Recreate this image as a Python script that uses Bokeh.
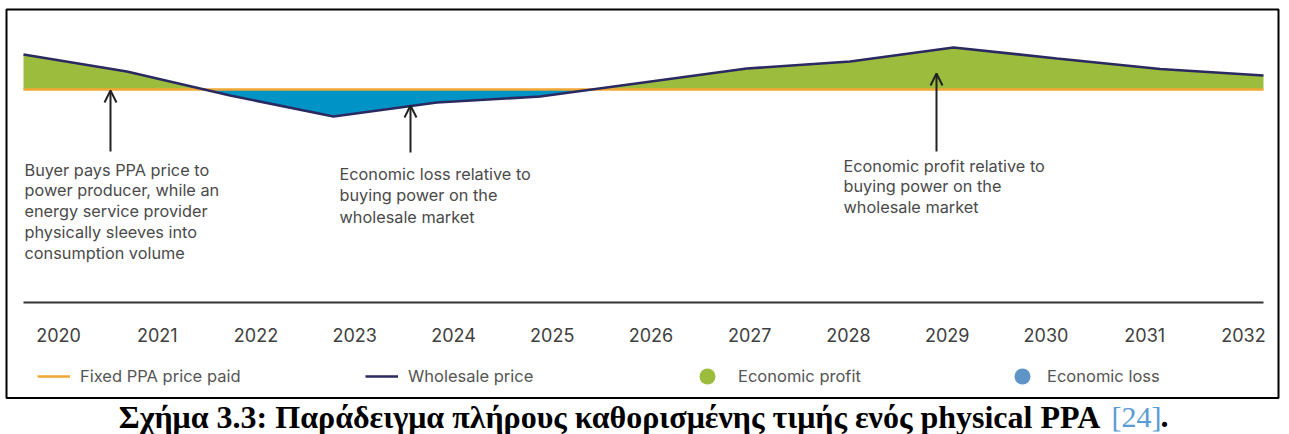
import numpy as np
from bokeh.plotting import figure
from bokeh.models import Range1d, Arrow, OpenHead, Legend, LegendItem
from bokeh.core.properties import value
from bokeh.embed import file_html
from bokeh.resources import INLINE

# ---------------- data ----------------
years = [2020, 2021, 2022, 2023, 2024, 2025, 2026, 2027, 2028, 2029, 2030, 2031, 2032]
year_labels = [str(y) for y in years]
wholesale_price = [67.5, 59.0, 47.0, 36.5, 43.5, 46.5, 53.5, 60.5, 64.0, 71.0, 65.5, 60.25, 57.0]
fixed_ppa_price = [50.0] * len(years)

legend_labels = ["Fixed PPA price paid", "Wholesale price", "Economic profit", "Economic loss"]
note_buyer = ["Buyer pays PPA price to", "power producer, while an", "energy service provider",
              "physically sleeves into", "consumption volume"]
note_loss = ["Economic loss relative to", "buying power on the", "wholesale market"]
note_profit = ["Economic profit relative to", "buying power on the", "wholesale market"]
caption_main = "Σχήμα 3.3: Παράδειγμα πλήρους καθορισμένης τιμής ενός physical PPA"
caption_ref = "[24]"
caption_end = "."

# ---------------- colours ----------------
C_PROFIT = "#9cbc3d"
C_LOSS = "#0094c6"
C_LOSS_LEG = "#5f95c6"
C_WHOLESALE = "#2b2962"
C_PPA = "#f2a634"
C_TEXT = "#4a4a4a"

# ---------------- figure ----------------
W, H = 1289, 434
p = figure(width=W, height=H, output_backend="svg", toolbar_location=None,
           x_axis_type=None, y_axis_type=None,
           x_range=Range1d(2019.777419, 2032.251613), y_range=Range1d(-122.5, 94.5),
           min_border=0, outline_line_color=None, background_fill_color="white",
           border_fill_color="white")
# page-pixel helper ranges (layout only) and a range for the year labels
p.extra_x_ranges = {"px": Range1d(0, W), "yr": Range1d(-0.587342, 12.465823)}
p.extra_y_ranges = {"px": Range1d(H, 0)}

# ---- profit / loss areas (split at crossings of the two price lines) ----
xs, ws, ps = [], [], []
for i in range(len(years)):
    xs.append(years[i]); ws.append(wholesale_price[i]); ps.append(fixed_ppa_price[i])
    if i < len(years) - 1:
        d0 = wholesale_price[i] - fixed_ppa_price[i]
        d1 = wholesale_price[i + 1] - fixed_ppa_price[i + 1]
        if d0 * d1 < 0:
            t = d0 / (d0 - d1)
            xc = years[i] + t * (years[i + 1] - years[i])
            yc = fixed_ppa_price[i] + t * (fixed_ppa_price[i + 1] - fixed_ppa_price[i])
            xs.append(xc); ws.append(yc); ps.append(yc)
ws = np.array(ws); ps = np.array(ps)
p.varea(x=xs, y1=ps, y2=np.maximum(ws, ps), fill_color=C_PROFIT)
p.varea(x=xs, y1=ps, y2=np.minimum(ws, ps), fill_color=C_LOSS)

r_ppa = p.line(years, fixed_ppa_price, line_color=C_PPA, line_width=2.4)
r_ws = p.line(years, wholesale_price, line_color=C_WHOLESALE, line_width=2.6)

# legend proxies for the areas (hidden on the plot, shown in the legend)
r_prof = p.scatter(x=years[:1], y=fixed_ppa_price[:1], marker="circle", size=16,
                   fill_color=C_PROFIT, line_color=None, visible=False)
r_loss = p.scatter(x=years[:1], y=fixed_ppa_price[:1], marker="circle", size=16,
                   fill_color=C_LOSS_LEG, line_color=None, visible=False)

# ---- baseline (x axis line) ----
p.line(x=[years[0], years[-1]], y=[302, 302], y_range_name="px", line_color="#333333", line_width=2)

# ---- year labels ----
p.text(x=list(range(len(year_labels))), y=[334] * len(year_labels), text=year_labels,
       x_range_name="yr", y_range_name="px", text_align="center", text_baseline="alphabetic",
       text_font=value("Inter"), text_font_size="18px", text_color="#404040")

# ---- notes ----
def add_note(lines, x0, y0, dy):
    p.text(x=[x0] * len(lines), y=[y0 + i * dy for i in range(len(lines))], text=lines,
           x_range_name="px", y_range_name="px", text_align="left", text_baseline="alphabetic",
           text_font=value("Inter"), text_font_size="16.3px", text_color=C_TEXT)

add_note(note_buyer, 24, 169, 20.75)
add_note(note_loss, 339, 173, 21.5)
add_note(note_profit, 843, 165, 20.6)

# ---- arrows ----
for ax, y_from, y_to in [(110, 151, 90), (410, 152, 105), (936, 151, 73)]:
    p.add_layout(Arrow(x_start=ax, y_start=y_from, x_end=ax, y_end=y_to,
                       x_range_name="px", y_range_name="px",
                       line_color="#222222", line_width=2,
                       end=OpenHead(size=12, line_width=2, line_color="#222222")))

# ---- legends ----
def add_legend(label, rend, vx, gw, standoff):
    lg = Legend(items=[LegendItem(label=label, renderers=[rend])], location=(vx, 38),
                orientation="horizontal", glyph_width=gw, glyph_height=40, label_height=40,
                label_standoff=standoff, padding=0, margin=0, spacing=0,
                border_line_color=None, background_fill_alpha=0, inactive_fill_alpha=0,
                label_text_font="Inter", label_text_font_size="16.5px", label_text_color="#555555")
    p.add_layout(lg, "center")

add_legend(legend_labels[0], r_ppa, 37, 33, 10)
add_legend(legend_labels[1], r_ws, 365, 33, 10)
add_legend(legend_labels[2], r_prof, 687, 40, 11)
add_legend(legend_labels[3], r_loss, 1002, 40, 5)

# ---- frame box ----
p.quad(left=[6], right=[1278], top=[9], bottom=[397.5], x_range_name="px", y_range_name="px",
       fill_alpha=0, line_color="black", line_width=2)

# ---- caption ----
p.text(x=[609], y=[416], text=[caption_main], x_range_name="px", y_range_name="px",
       text_align="center", text_baseline="alphabetic", text_font=value("Liberation Serif"),
       text_font_style="bold", text_font_size="32px", text_color="black")
p.text(x=[1111], y=[416], text=[caption_ref], x_range_name="px", y_range_name="px",
       text_align="left", text_baseline="alphabetic", text_font=value("Liberation Serif"),
       text_font_size="30px", text_color="#5b9bd5")
p.text(x=[1160], y=[416], text=[caption_end], x_range_name="px", y_range_name="px",
       text_align="left", text_baseline="alphabetic", text_font=value("Liberation Serif"),
       text_font_style="bold", text_font_size="32px", text_color="black")

open("out.html", "w").write(file_html(p, INLINE))
